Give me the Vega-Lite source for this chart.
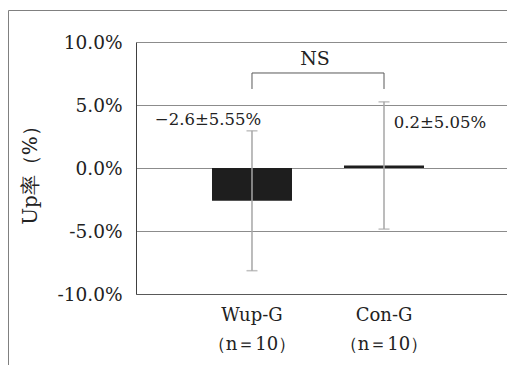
{
  "$schema": "https://vega.github.io/schema/vega-lite/v6.json",
  "width": 500,
  "height": 356,
  "autosize": {"type": "none"},
  "padding": {"left": 8, "top": 10, "right": -1, "bottom": -1},
  "background": "white",
  "config": {"view": {"stroke": "#808080", "strokeWidth": 1}, "font": "DejaVu Serif"},
  "data": {"values": [
    {"group": "Wup-G", "mean": -2.6, "sd": 5.55, "lo": -8.15, "hi": 2.95, "label": "−2.6±5.55%"},
    {"group": "Con-G", "mean": 0.2, "sd": 5.05, "lo": -4.85, "hi": 5.25, "label": "0.2±5.05%"}
  ]},
  "encoding": {
    "x": {
      "field": "group", "type": "nominal", "sort": ["Wup-G", "Con-G"],
      "scale": {"domain": ["Wup-G", "Con-G"], "range": [128, 500], "paddingInner": 0.394, "paddingOuter": 0.606, "align": 0.475},
      "axis": {
        "orient": "bottom", "offset": -72, "title": null, "labelAngle": 0,
        "domainColor": "#595959", "domainWidth": 1, "ticks": false, "grid": false,
        "labelExpr": "[datum.label, '（n＝10）']",
        "labelFont": "DejaVu Serif", "labelFontSize": 18, "labelLineHeight": 29,
        "labelPadding": 12, "labelBaseline": "top", "labelColor": "#222222"
      }
    }
  },
  "layer": [
    {
      "mark": {"type": "bar", "color": "#1e1e1e"},
      "encoding": {
        "y": {
          "field": "mean", "type": "quantitative",
          "scale": {"domain": [-10, 10], "range": [284, 32], "nice": false, "zero": false},
          "axis": {
            "values": [-10, -5, 0, 5, 10], "offset": -128,
            "domainColor": "#404040", "domainWidth": 1, "ticks": false,
            "grid": true, "gridColor": "#8c8c8c", "gridWidth": 1,
            "labelFont": "DejaVu Serif", "labelFontSize": 18.5, "labelColor": "#222222",
            "labelPadding": 14, "labelFlush": false, "labelOverlap": false,
            "labelExpr": "(datum.value < 0 ? '-' : '') + format(abs(datum.value), '.1f') + '%'",
            "title": "Up率（%）", "titleFont": "DejaVu Serif", "titleFontSize": 20,
            "titleFontWeight": "normal", "titleColor": "#222222",
            "titleX": -106, "titleY": 160, "titleAngle": -90,
            "titleBaseline": "middle", "titleAlign": "center"
          }
        }
      }
    },
    {
      "mark": {"type": "rule", "color": "#a6a6a6", "strokeWidth": 1.5},
      "encoding": {
        "y": {"field": "lo", "type": "quantitative"},
        "y2": {"field": "hi"}
      }
    },
    {
      "mark": {"type": "tick", "color": "#a6a6a6", "size": 11, "thickness": 1.5},
      "encoding": {"y": {"field": "lo", "type": "quantitative"}}
    },
    {
      "mark": {"type": "tick", "color": "#a6a6a6", "size": 11, "thickness": 1.5},
      "encoding": {"y": {"field": "hi", "type": "quantitative"}}
    },
    {
      "transform": [{"filter": "datum.group == 'Wup-G'"}],
      "mark": {"type": "text", "font": "DejaVu Serif", "fontSize": 16.5, "color": "#222222", "dx": -44, "dy": -76, "baseline": "alphabetic", "align": "center"},
      "encoding": {
        "y": {"field": "mean", "type": "quantitative"},
        "text": {"field": "label"}
      }
    },
    {
      "transform": [{"filter": "datum.group == 'Con-G'"}],
      "mark": {"type": "text", "font": "DejaVu Serif", "fontSize": 16.5, "color": "#222222", "dx": 56, "dy": -37.5, "baseline": "alphabetic", "align": "center"},
      "encoding": {
        "y": {"field": "mean", "type": "quantitative"},
        "text": {"field": "label"}
      }
    },
    {
      "mark": {"type": "rule", "color": "#595959", "strokeWidth": 1},
      "encoding": {
        "y": {"datum": 7.54, "type": "quantitative"},
        "y2": {"datum": 6.27}
      }
    },
    {
      "data": {"values": [{"from": "Wup-G", "to": "Con-G"}]},
      "mark": {"type": "rule", "color": "#595959", "strokeWidth": 1},
      "encoding": {
        "x": {"field": "from", "type": "nominal"},
        "x2": {"field": "to"},
        "y": {"datum": 7.54, "type": "quantitative"}
      }
    },
    {
      "data": {"values": [{"from": "Wup-G", "text": "NS"}]},
      "mark": {"type": "text", "font": "DejaVu Serif", "fontSize": 19, "color": "#222222", "dx": 63, "baseline": "alphabetic", "align": "center"},
      "encoding": {
        "x": {"field": "from", "type": "nominal"},
        "y": {"datum": 8.17, "type": "quantitative"},
        "text": {"field": "text"}
      }
    }
  ]
}
